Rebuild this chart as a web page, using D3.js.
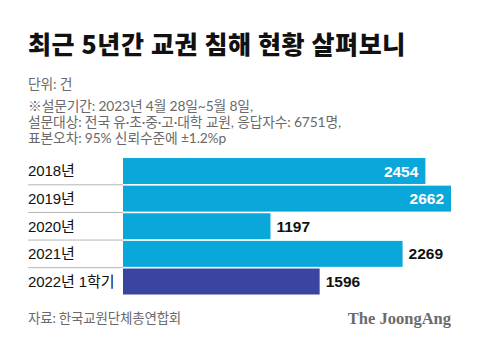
<!DOCTYPE html>
<html>
<head>
<meta charset="utf-8">
<script src="https://cdn.jsdelivr.net/npm/d3@7"></script>
<style>
  html, body { margin: 0; padding: 0; background: #fff; }
  svg { display: block; }
</style>
</head>
<body>
<svg id="chart" width="480" height="346"></svg>
<script>
// 교권 침해 건수 (단위: 건)
const categories = ["2018년", "2019년", "2020년", "2021년", "2022년 1학기"];
const values = [2454, 2662, 1197, 2269, 1596];
const highlight = [false, false, false, false, true];

const titleText = "최근 5년간 교권 침해 현황 살펴보니";
const noteLines = [
  "단위: 건",
  "※설문기간: 2023년 4월 28일~5월 8일,",
  "설문대상: 전국 유·초·중·고·대학 교원, 응답자수: 6751명,",
  "표본오차: 95% 신뢰수준에 ±1.2%p"
];
const sourceText = "자료: 한국교원단체총연합회";
const brandText = "The JoongAng";

const KR = "'Noto Sans CJK KR', sans-serif";
const MIX = "'Liberation Sans', 'Noto Sans CJK KR', sans-serif";
const NOTE = "Lato, 'Noto Sans CJK KR', sans-serif";

const svg = d3.select("#chart");
const left = 28, barLeft = 123, barRight = 451;

// 제목
svg.append("text")
  .attr("x", left).attr("y", 54)
  .style("font-family", KR)
  .style("font-size", "25px").style("font-weight", 900)
  .style("letter-spacing", "0.6px")
  .attr("fill", "#111")
  .text(titleText);

// 주석
svg.append("g").selectAll("text")
  .data(noteLines).join("text")
  .attr("x", left)
  .attr("y", (d, i) => i === 0 ? 89 : 111 + (i - 1) * 16)
  .style("font-family", NOTE)
  .style("font-size", "13.8px")
  .style("letter-spacing", "-0.15px")
  .attr("fill", "#6a6a6a")
  .text(d => d);

// 스케일
const x = d3.scaleLinear().domain([0, d3.max(values)]).range([barLeft, barRight]);
const y = d3.scaleBand().domain(categories).range([158, 294.5]).paddingInner(0.06);

const rows = categories.map((c, i) => ({ cat: c, value: values[i], hl: highlight[i] }));

// 구분선
svg.append("g").selectAll("line")
  .data(categories.slice(1)).join("line")
  .attr("x1", left).attr("x2", barLeft)
  .attr("y1", d => y(d) - y.step() * y.paddingInner() / 2)
  .attr("y2", d => y(d) - y.step() * y.paddingInner() / 2)
  .attr("stroke", "#b5b5b5").attr("stroke-width", 1);

// 막대
svg.append("g").selectAll("rect")
  .data(rows).join("rect")
  .attr("x", x(0))
  .attr("y", d => y(d.cat))
  .attr("width", d => x(d.value) - x(0))
  .attr("height", y.bandwidth())
  .attr("fill", d => d.hl ? "#3a45a1" : "#0aa8da");

// 항목 이름
svg.append("g").selectAll("text")
  .data(rows).join("text")
  .attr("x", left)
  .attr("y", d => y(d.cat) + y.bandwidth() / 2)
  .attr("dy", "0.36em")
  .style("font-family", MIX)
  .style("font-size", "15px")
  .style("letter-spacing", "-0.1px")
  .attr("fill", "#111")
  .text(d => d.cat);

// 값 표시: 긴 막대는 안쪽, 나머지는 바깥쪽
const inside = d => d.value > 2400;
svg.append("g").selectAll("text")
  .data(rows).join("text")
  .attr("x", d => inside(d) ? x(d.value) - 7 : x(d.value) + 6)
  .attr("y", d => y(d.cat) + y.bandwidth() / 2)
  .attr("dy", "0.36em")
  .attr("text-anchor", d => inside(d) ? "end" : "start")
  .style("font-family", "'Liberation Sans', Arial, sans-serif")
  .style("font-size", "15.5px").style("font-weight", 700)
  .attr("fill", d => inside(d) ? "#fff" : "#111")
  .text(d => d3.format("d")(d.value));

// 출처
svg.append("text")
  .attr("x", left).attr("y", 323)
  .style("font-family", NOTE)
  .style("font-size", "13.5px")
  .style("letter-spacing", "-0.2px")
  .attr("fill", "#6a6a6a")
  .text(sourceText);

svg.append("text")
  .attr("x", barRight).attr("y", 324)
  .attr("text-anchor", "end")
  .style("font-family", "'Liberation Serif', 'DejaVu Serif', serif")
  .style("font-size", "16.5px").style("font-weight", 700)
  .attr("fill", "#6b6b6b")
  .text(brandText);
</script>
</body>
</html>
